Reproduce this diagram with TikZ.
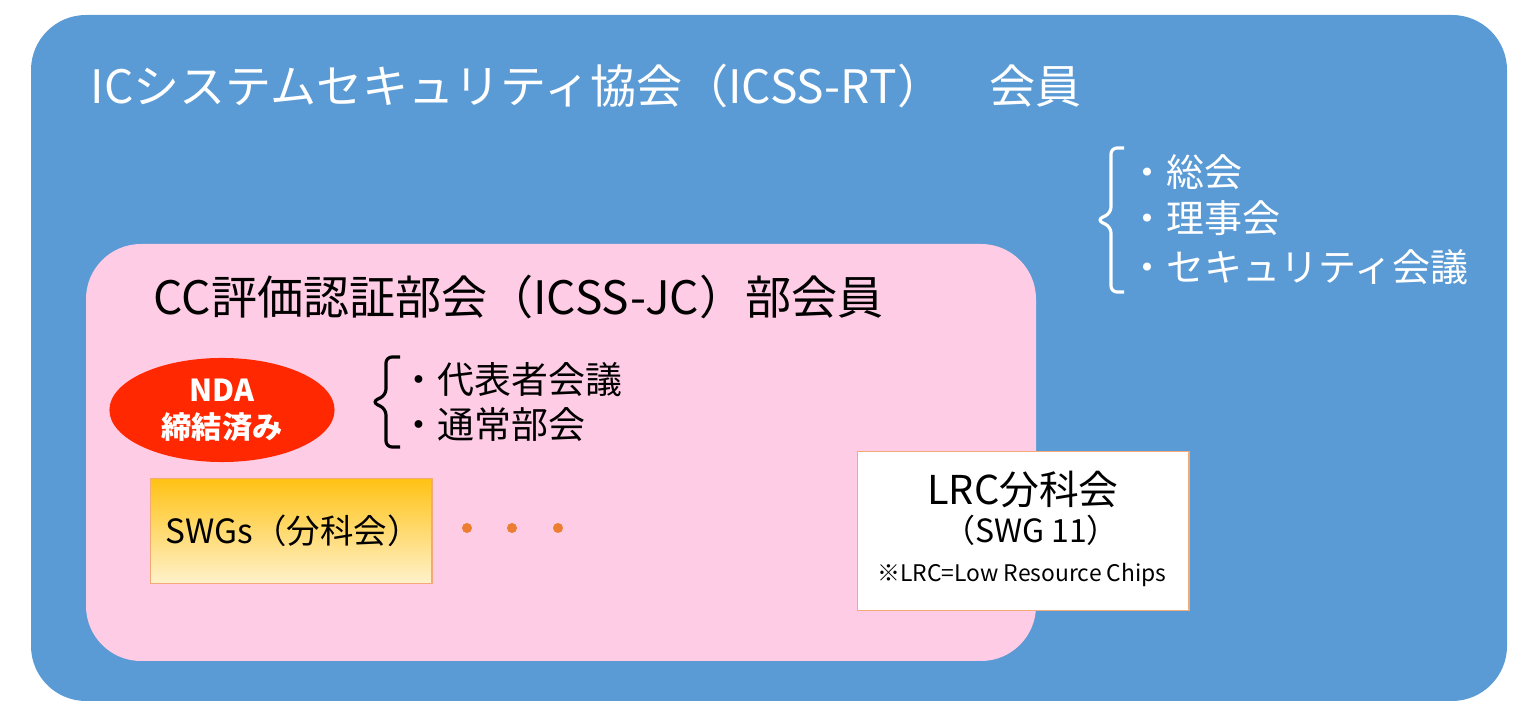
\documentclass[tikz,border=0pt]{standalone}
\usepackage{fontspec}
\setmainfont{Noto Sans CJK JP}
\usetikzlibrary{shapes.geometric,positioning}
\definecolor{rtblue}{RGB}{91,155,213}
\definecolor{jcpink}{RGB}{255,204,229}
\definecolor{ndared}{RGB}{255,40,0}
\definecolor{swgtop}{RGB}{255,194,20}
\definecolor{swgbot}{RGB}{255,242,204}
\definecolor{boxline}{RGB}{244,170,120}
\definecolor{dotorange}{RGB}{237,125,49}
\tikzset{
    bigtext/.style={anchor=west, inner sep=0, font=\fontsize{13.1pt}{15pt}\selectfont},
    listtext/.style={anchor=west, inner sep=0, font=\fontsize{10.8pt}{13pt}\selectfont},
    brace/.style={line width=0.9pt, rounded corners=0.06cm},
}
\begin{document}
\begin{tikzpicture}[x=0.01cm, y=-0.01cm]
    \useasboundingbox (0,0) rectangle (1536,719);
    \fill[rtblue, rounded corners=0.55cm] (31,15) rectangle (1507,701);
    \fill[jcpink, rounded corners=0.55cm] (86,244) rectangle (1036,661);

    \node[bigtext, white] (rt) at (90,86) {ICシステムセキュリティ協会（ICSS-RT）　会員};
    \draw[brace, white] (1124,148) -- (1111,148) -- (1111,213) -- (1097,220) -- (1111,227) -- (1111,292) -- (1124,292);
    \node[listtext, white] (sokai) at (1128,172) {・総会};
    \node[listtext, white] (rijikai) at (1128,218) {・理事会};
    \node[listtext, white] (secmtg) at (1128,267) {・セキュリティ会議};

    \node[bigtext] (jc) at (153,297) {CC評価認証部会（ICSS-JC）部会員};
    \node[ellipse, fill=ndared, inner sep=0, minimum width=2.25cm, minimum height=1.04cm,
          text=white, align=center, font=\fontsize{8.6pt}{10.6pt}\selectfont\bfseries] (nda) at (222,410) {NDA\\締結済み};
    \draw[brace, black] (400,357) -- (386,357) -- (386,395) -- (372,402) -- (386,409) -- (386,447) -- (400,447);
    \node[listtext, font=\fontsize{10.5pt}{13pt}\selectfont] (daihyo) at (400,380) {・代表者会議};
    \node[listtext, font=\fontsize{10.5pt}{13pt}\selectfont] (tsujo) at (400,425) {・通常部会};

    \node[draw=boxline, top color=swgtop, bottom color=swgbot, anchor=north west,
          text width=2.51cm, inner xsep=0.15cm, minimum height=1.05cm, align=left,
          font=\fontsize{9.5pt}{11pt}\selectfont] (swg) at (150,478) {SWGs（分科会）};
    \foreach \x in {467,512,558}
        \fill[dotorange] (\x,528) circle (0.05cm);

    \node[draw=boxline, fill=white, anchor=north west, minimum width=3.31cm, minimum height=1.59cm] (lrc) at (857,451) {};
    \node[font=\fontsize{11.3pt}{13pt}\selectfont, inner sep=0] (lrcname) at (1023,489) {LRC分科会};
    \node[font=\fontsize{9.1pt}{10pt}\selectfont, inner sep=0] (lrcswg) at (1031,530) {（SWG 11）};
    \node[font=\fontsize{6.5pt}{7pt}\selectfont, inner sep=0] (lrcnote) at (1022,575) {※LRC=Low Resource Chips};
\end{tikzpicture}
\end{document}
